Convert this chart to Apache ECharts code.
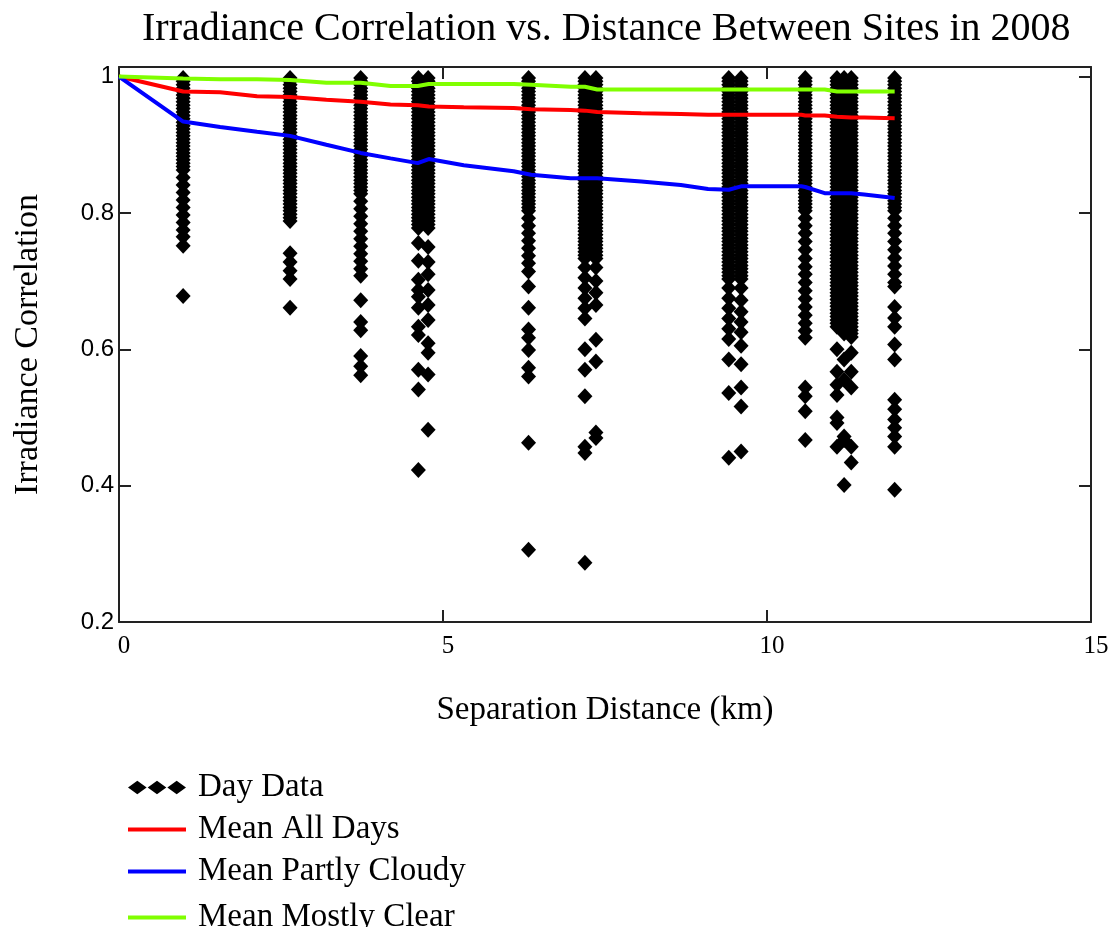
<!DOCTYPE html>
<html>
<head>
<meta charset="utf-8">
<script src="https://cdn.jsdelivr.net/npm/echarts@6/dist/echarts.min.js"></script>
<style>html,body{margin:0;padding:0;background:#fff}#c{width:1112px;height:927px}</style>
</head>
<body>
<div id="c"></div>
<script>
// ---- Data ----
const titleText = 'Irradiance Correlation vs. Distance Between Sites in 2008';
const xTicks = [0, 5, 10, 15];
const yTicks = [0.2, 0.4, 0.6, 0.8, 1];
const legendNames = ['Day Data', 'Mean All Days', 'Mean Partly Cloudy', 'Mean Mostly Clear'];

// Site-pair separation distances (km) of the "Day Data" columns
const distances = [0.99, 2.64, 3.73, 4.62, 4.77, 6.32, 7.19, 7.36, 9.41, 9.60, 10.59, 11.08, 11.19, 11.30, 11.97];
// Daily irradiance correlations for each distance above (dense runs read as closely packed days)
const dayData = [
  [0.998,0.993,0.988,0.983,0.978,0.973,0.968,0.963,0.958,0.953,
   0.948,0.943,0.938,0.933,0.928,0.923,0.918,0.913,0.908,0.903,
   0.898,0.893,0.888,0.883,0.878,0.873,0.868,0.863,
   0.852,0.841,0.830,0.819,0.808,0.797,0.786,0.775,0.765,0.752,0.678],
  [0.998,0.993,0.988,0.983,0.978,0.973,0.968,0.963,0.958,0.953,
   0.948,0.943,0.938,0.933,0.928,0.923,0.918,0.913,0.908,0.903,
   0.898,0.893,0.888,0.883,0.878,0.873,0.868,0.863,0.858,0.853,
   0.848,0.843,0.838,0.833,0.828,0.823,0.818,0.813,0.808,0.803,
   0.798,0.793,0.788,
   0.741,0.728,0.715,0.703,0.661],
  [0.998,0.993,0.988,0.983,0.978,0.973,0.968,0.963,0.958,0.953,
   0.948,0.943,0.938,0.933,0.928,0.923,0.918,0.913,0.908,0.903,
   0.898,0.893,0.888,0.883,0.878,0.873,0.868,0.863,0.858,0.853,
   0.848,0.843,0.838,0.833,0.828,
   0.817,0.806,0.795,0.784,0.773,0.762,0.751,0.740,0.729,0.718,0.708,
   0.672,0.640,0.628,0.590,0.575,0.562],
  [0.998,0.993,0.988,0.983,0.978,0.973,0.968,0.963,0.958,0.953,
   0.948,0.943,0.938,0.933,0.928,0.923,0.918,0.913,0.908,0.903,
   0.898,0.893,0.888,0.883,0.878,0.873,0.868,0.863,0.858,0.853,
   0.848,0.843,0.838,0.833,0.828,0.823,0.818,0.813,0.808,0.803,
   0.798,0.793,0.788,0.783,0.778,
   0.756,0.730,0.702,0.687,0.677,0.661,0.633,0.621,0.570,0.541,0.423],
  [0.998,0.993,0.988,0.983,0.978,0.973,0.968,0.963,0.958,0.953,
   0.948,0.943,0.938,0.933,0.928,0.923,0.918,0.913,0.908,0.903,
   0.898,0.893,0.888,0.883,0.878,0.873,0.868,0.863,0.858,0.853,
   0.848,0.843,0.838,0.833,0.828,0.823,0.818,0.813,0.808,0.803,
   0.798,0.793,0.788,0.783,0.778,
   0.750,0.728,0.710,0.687,0.665,0.643,0.609,0.595,0.563,0.482],
  [0.998,0.993,0.988,0.983,0.978,0.973,0.968,0.963,0.958,0.953,
   0.948,0.943,0.938,0.933,0.928,0.923,0.918,0.913,0.908,0.903,
   0.898,0.893,0.888,0.883,0.878,0.873,0.868,0.863,0.858,0.853,
   0.848,0.843,0.838,0.833,0.828,0.823,0.818,0.813,0.808,0.803,
   0.792,0.781,0.770,0.759,0.748,0.737,0.726,0.714,
   0.692,0.661,0.629,0.617,0.599,0.573,0.560,0.463,0.306],
  [0.998,0.993,0.988,0.983,0.978,0.973,0.968,0.963,0.958,0.953,
   0.948,0.943,0.938,0.933,0.928,0.923,0.918,0.913,0.908,0.903,
   0.898,0.893,0.888,0.883,0.878,0.873,0.868,0.863,0.858,0.853,
   0.848,0.843,0.838,0.833,0.828,0.823,0.818,0.813,0.808,0.803,
   0.798,0.793,0.788,0.783,0.778,0.773,0.768,0.763,0.758,0.753,
   0.748,0.743,0.738,0.733,
   0.720,0.705,0.690,0.675,0.660,0.645,0.600,0.570,0.531,0.457,0.448,0.287],
  [0.998,0.993,0.988,0.983,0.978,0.973,0.968,0.963,0.958,0.953,
   0.948,0.943,0.938,0.933,0.928,0.923,0.918,0.913,0.908,0.903,
   0.898,0.893,0.888,0.883,0.878,0.873,0.868,0.863,0.858,0.853,
   0.848,0.843,0.838,0.833,0.828,0.823,0.818,0.813,0.808,0.803,
   0.798,0.793,0.788,0.783,0.778,0.773,0.768,0.763,0.758,0.753,
   0.748,0.743,0.738,0.733,
   0.720,0.700,0.683,0.665,0.614,0.582,0.478,0.470],
  [0.998,0.993,0.988,0.983,0.978,0.973,0.968,0.963,0.958,0.953,
   0.948,0.943,0.938,0.933,0.928,0.923,0.918,0.913,0.908,0.903,
   0.898,0.893,0.888,0.883,0.878,0.873,0.868,0.863,0.858,0.853,
   0.848,0.843,0.838,0.833,0.828,0.823,0.818,0.813,0.808,0.803,
   0.798,0.793,0.788,0.783,0.778,0.773,0.768,0.763,0.758,0.753,
   0.748,0.743,0.738,0.733,0.728,0.723,0.718,0.713,0.708,0.703,
   0.690,0.675,0.660,0.645,0.630,0.615,0.585,0.536,0.441],
  [0.998,0.993,0.988,0.983,0.978,0.973,0.968,0.963,0.958,0.953,
   0.948,0.943,0.938,0.933,0.928,0.923,0.918,0.913,0.908,0.903,
   0.898,0.893,0.888,0.883,0.878,0.873,0.868,0.863,0.858,0.853,
   0.848,0.843,0.838,0.833,0.828,0.823,0.818,0.813,0.808,0.803,
   0.798,0.793,0.788,0.783,0.778,0.773,0.768,0.763,0.758,0.753,
   0.748,0.743,0.738,0.733,0.728,0.723,0.718,0.713,0.708,0.703,
   0.690,0.672,0.655,0.640,0.625,0.605,0.578,0.544,0.516,0.450],
  [0.998,0.993,0.988,0.983,0.978,0.973,0.968,0.963,0.958,0.953,
   0.948,0.943,0.938,0.933,0.928,0.923,0.918,0.913,0.908,0.903,
   0.898,0.893,0.888,0.883,0.878,0.873,0.868,0.863,0.858,0.853,
   0.848,0.843,0.838,0.833,0.828,0.823,0.818,0.813,0.808,0.803,
   0.792,0.781,0.770,0.758,0.746,0.733,0.721,0.710,0.698,0.686,0.674,0.662,0.650,0.638,0.627,0.617,
   0.544,0.531,0.509,0.467],
  [0.998,0.993,0.988,0.983,0.978,0.973,0.968,0.963,0.958,0.953,
   0.948,0.943,0.938,0.933,0.928,0.923,0.918,0.913,0.908,0.903,
   0.898,0.893,0.888,0.883,0.878,0.873,0.868,0.863,0.858,0.853,
   0.848,0.843,0.838,0.833,0.828,0.823,0.818,0.813,0.808,0.803,
   0.798,0.793,0.788,0.783,0.778,0.773,0.768,0.763,0.758,0.753,
   0.748,0.743,0.738,0.733,0.728,0.723,0.718,0.713,0.708,0.703,
   0.698,0.693,0.688,0.683,0.678,0.673,0.668,0.663,0.658,0.653,
   0.648,0.643,0.638,0.633,
   0.600,0.567,0.548,0.533,0.500,0.492,0.457],
  [0.998,0.993,0.988,0.983,0.978,0.973,0.968,0.963,0.958,0.953,
   0.948,0.943,0.938,0.933,0.928,0.923,0.918,0.913,0.908,0.903,
   0.898,0.893,0.888,0.883,0.878,0.873,0.868,0.863,0.858,0.853,
   0.848,0.843,0.838,0.833,0.828,0.823,0.818,0.813,0.808,0.803,
   0.798,0.793,0.788,0.783,0.778,0.773,0.768,0.763,0.758,0.753,
   0.748,0.743,0.738,0.733,0.728,0.723,0.718,0.713,0.708,0.703,
   0.698,0.693,0.688,0.683,0.678,0.673,0.668,0.663,0.658,0.653,
   0.648,0.643,0.638,0.633,0.628,0.623,
   0.585,0.555,0.472,0.467,0.401],
  [0.998,0.993,0.988,0.983,0.978,0.973,0.968,0.963,0.958,0.953,
   0.948,0.943,0.938,0.933,0.928,0.923,0.918,0.913,0.908,0.903,
   0.898,0.893,0.888,0.883,0.878,0.873,0.868,0.863,0.858,0.853,
   0.848,0.843,0.838,0.833,0.828,0.823,0.818,0.813,0.808,0.803,
   0.798,0.793,0.788,0.783,0.778,0.773,0.768,0.763,0.758,0.753,
   0.748,0.743,0.738,0.733,0.728,0.723,0.718,0.713,0.708,0.703,
   0.698,0.693,0.688,0.683,0.678,0.673,0.668,0.663,0.658,0.653,
   0.648,0.643,0.638,0.633,0.628,0.623,0.618,
   0.595,0.567,0.544,0.457,0.434],
  [0.998,0.993,0.988,0.983,0.978,0.973,0.968,0.963,0.958,0.953,
   0.948,0.943,0.938,0.933,0.928,0.923,0.918,0.913,0.908,0.903,
   0.898,0.893,0.888,0.883,0.878,0.873,0.868,0.863,0.858,0.853,
   0.848,0.843,0.838,0.833,0.828,0.823,0.818,0.813,0.808,0.803,
   0.792,0.781,0.770,0.758,0.746,0.734,0.722,0.710,0.698,0.692,
   0.662,0.646,0.633,0.607,0.585,0.526,0.512,0.497,0.485,0.472,0.457,0.394]
];

// Mean curves
const meanDist    = [0, 0.99, 1.56, 2.13, 2.64, 3.2, 3.73, 4.19, 4.61, 4.78, 5.32, 6.09, 6.36, 6.97, 7.19, 7.38, 8.06, 8.67, 9.09, 9.41, 9.60, 10.53, 10.59, 10.89, 11.08, 11.30, 11.5, 11.97];
const meanAll     = [1.0, 0.978, 0.977, 0.971, 0.970, 0.966, 0.963, 0.959, 0.958, 0.956, 0.955, 0.954, 0.952, 0.951, 0.950, 0.948, 0.946, 0.945, 0.944, 0.944, 0.944, 0.944, 0.943, 0.943, 0.941, 0.940, 0.940, 0.939];
const meanCloudy  = [1.0, 0.934, 0.926, 0.919, 0.913, 0.900, 0.888, 0.880, 0.873, 0.879, 0.870, 0.861, 0.856, 0.851, 0.851, 0.851, 0.846, 0.841, 0.835, 0.834, 0.839, 0.839, 0.838, 0.829, 0.829, 0.829, 0.827, 0.822];
const meanClear   = [1.0, 0.997, 0.996, 0.996, 0.995, 0.991, 0.991, 0.986, 0.986, 0.989, 0.989, 0.989, 0.988, 0.985, 0.985, 0.981, 0.981, 0.981, 0.981, 0.981, 0.981, 0.981, 0.981, 0.981, 0.978, 0.978, 0.978, 0.978];

// ---- Build ----
const scatterPts = [];
distances.forEach((d, i) => dayData[i].forEach(v => scatterPts.push([d, v])));
const zip = (xs, ys) => xs.map((x, i) => [x, ys[i]]);

const serif = 'Liberation Serif';
const axisCol = '#222';
const diamondsIcon = 'path://M0,6.5L9,0L18,6.5L9,13Z M19,6.5L28,0L37,6.5L28,13Z M38,6.5L47,0L56,6.5L47,13Z';
const lineIcon = 'path://M0,0H58V4H0Z';
const yFmt = v => (Math.abs(v * 5 - Math.round(v * 5)) < 1e-6 ? String(+v.toFixed(1)) : '');
const legendTops = [766, 808, 850, 896];

const legends = legendNames.map((n, i) => ({
  orient: 'vertical', left: 123, top: legendTops[i],
  itemWidth: 58, itemHeight: 16, itemGap: 0,
  selectedMode: false,
  textStyle: {fontFamily: serif, fontSize: 33, color: '#000', lineHeight: 33, padding: [0, 0, 0, 7]},
  data: [{name: n, icon: i === 0 ? diamondsIcon : lineIcon}]
}));

const chart = echarts.init(document.getElementById('c'), null, {renderer: 'canvas'});
chart.setOption({
  backgroundColor: '#fff',
  animation: false,
  title: {
    text: titleText, left: 137, top: 4,
    textStyle: {fontFamily: serif, fontSize: 40, fontWeight: 'normal', color: '#000'}
  },
  grid: {left: 119, right: 21, top: 67, bottom: 305, containLabel: false, outerBoundsMode: 'none'},
  legend: legends,
  xAxis: [
    {
      type: 'value', position: 'bottom', min: 0, max: 15, interval: 5,
      name: 'Separation Distance (km)', nameLocation: 'middle', nameGap: 72,
      nameTextStyle: {fontFamily: serif, fontSize: 33, color: '#000'},
      axisLine: {show: true, onZero: false, lineStyle: {color: axisCol, width: 2}},
      axisTick: {show: true, inside: true, length: 12, lineStyle: {color: axisCol, width: 2}},
      axisLabel: {fontFamily: serif, fontSize: 25, color: '#000', margin: 12, padding: [0, 0, 0, 10],
                  customValues: xTicks},
      splitLine: {show: false}
    },
    {
      type: 'value', position: 'top', min: 0, max: 15, interval: 5,
      axisLine: {show: true, onZero: false, lineStyle: {color: axisCol, width: 2}},
      axisTick: {show: true, inside: true, length: 12, lineStyle: {color: axisCol, width: 2}},
      axisLabel: {show: false},
      splitLine: {show: false}
    }
  ],
  yAxis: [
    {
      type: 'value', position: 'left', min: 0.2, max: 1.014, interval: 0.2,
      name: 'Irradiance Correlation', nameLocation: 'middle', nameGap: 74, nameRotate: 90,
      nameTextStyle: {fontFamily: serif, fontSize: 34, color: '#000'},
      axisLine: {show: true, onZero: false, lineStyle: {color: axisCol, width: 2}},
      axisTick: {show: true, inside: true, length: 12, lineStyle: {color: axisCol, width: 2}, customValues: yTicks},
      axisLabel: {fontFamily: 'Liberation Sans', fontSize: 24, color: '#000', margin: 5, padding: [6, 0, 0, 0],
                  customValues: yTicks, formatter: yFmt},
      splitLine: {show: false}
    },
    {
      type: 'value', position: 'right', min: 0.2, max: 1.014, interval: 0.2,
      axisLine: {show: true, onZero: false, lineStyle: {color: axisCol, width: 2}},
      axisTick: {show: true, inside: true, length: 12, lineStyle: {color: axisCol, width: 2}, customValues: yTicks},
      axisLabel: {show: false},
      splitLine: {show: false}
    }
  ],
  series: [
    {
      name: 'Day Data', type: 'scatter', xAxisIndex: 0, yAxisIndex: 0,
      symbol: 'diamond', symbolSize: [15, 16],
      itemStyle: {color: '#000', opacity: 1}, color: '#000',
      emphasis: {disabled: true},
      data: scatterPts, z: 2
    },
    {
      name: 'Mean All Days', type: 'line', xAxisIndex: 0, yAxisIndex: 0,
      color: '#ff0000', itemStyle: {color: '#ff0000'},
      showSymbol: false, symbol: 'none', lineStyle: {color: '#ff0000', width: 4},
      data: zip(meanDist, meanAll), z: 5
    },
    {
      name: 'Mean Partly Cloudy', type: 'line', xAxisIndex: 0, yAxisIndex: 0,
      color: '#0000ff', itemStyle: {color: '#0000ff'},
      showSymbol: false, symbol: 'none', lineStyle: {color: '#0000ff', width: 4},
      data: zip(meanDist, meanCloudy), z: 5
    },
    {
      name: 'Mean Mostly Clear', type: 'line', xAxisIndex: 0, yAxisIndex: 0,
      color: '#80ff00', itemStyle: {color: '#80ff00'},
      showSymbol: false, symbol: 'none', lineStyle: {color: '#80ff00', width: 4},
      data: zip(meanDist, meanClear), z: 5
    }
  ]
});
</script>
</body>
</html>
